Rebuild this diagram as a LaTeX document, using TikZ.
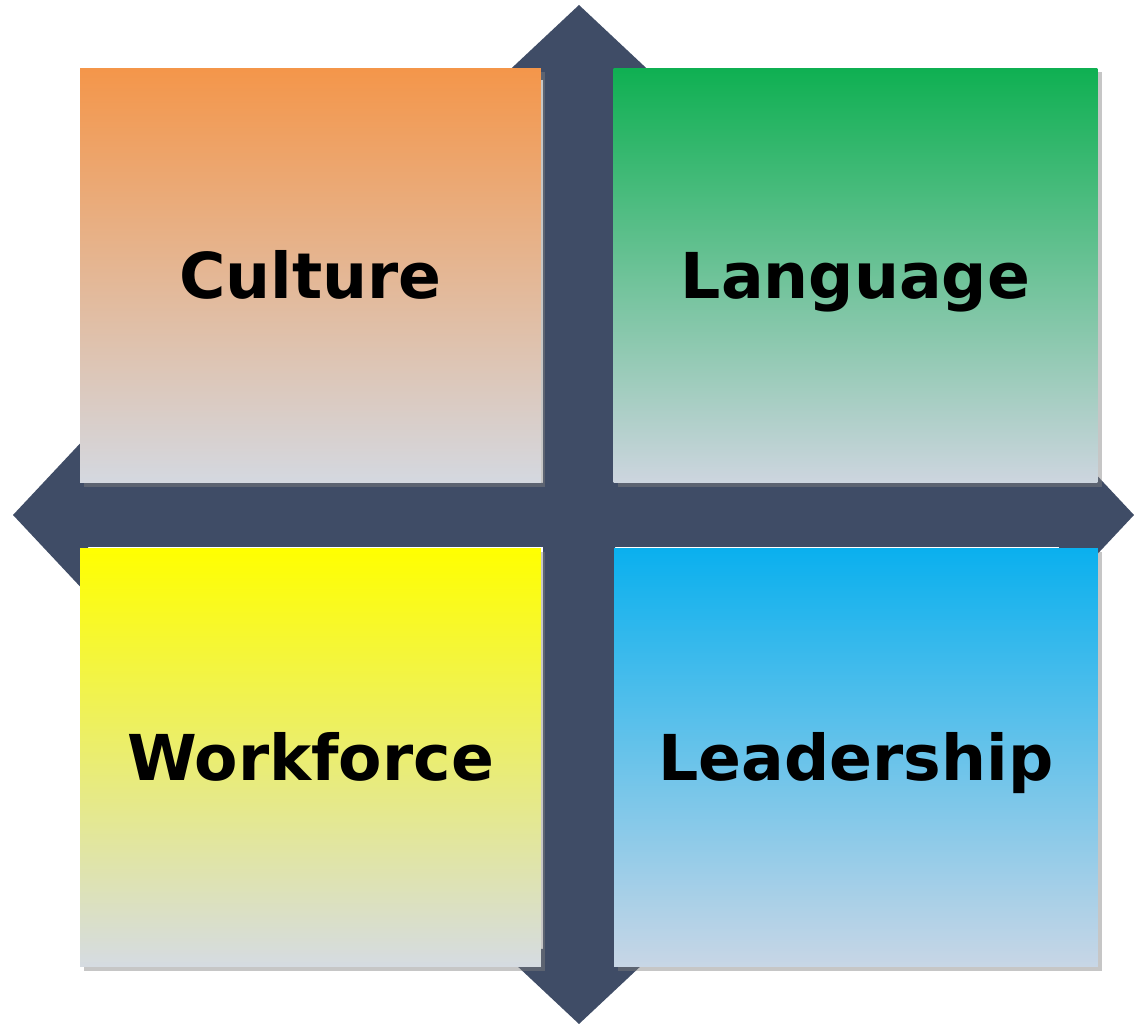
\documentclass[tikz,border=0pt]{standalone}
\usepackage{fontspec}
\setmainfont{DejaVu Sans}
\usetikzlibrary{shadows}
\definecolor{crossblue}{HTML}{3F4C66}
\definecolor{cultop}{HTML}{F4964A}
\definecolor{culbot}{HTML}{D4D8E0}
\definecolor{langtop}{HTML}{0FB052}
\definecolor{langbot}{HTML}{CDD5DF}
\definecolor{worktop}{HTML}{FFFF00}
\definecolor{workbot}{HTML}{D5DBE2}
\definecolor{leadtop}{HTML}{0AB0EE}
\definecolor{leadbot}{HTML}{C8D6E6}
\tikzstyle{quad} = [rectangle, inner sep=0pt, text centered, text=black, text height=26pt, text depth=0pt, font=\bfseries\fontsize{36}{40}\selectfont, drop shadow={shadow xshift=2.5pt, shadow yshift=-2.5pt, fill=black!50, opacity=0.45}]
\tikzstyle{narrow} = [quad, minimum width=9.22cm]
\tikzstyle{wide} = [quad, minimum width=9.68cm]
\tikzstyle{cross} = [fill=crossblue, draw=none]

\begin{document}
\begin{tikzpicture}[x=0.02cm, y=-0.02cm]

    \useasboundingbox (0,0) rectangle (1134,1026);

    % four-headed cross
    \path [cross] (579,5) -- (659,80) -- (615,80) -- (615,483) -- (1059,483) -- (1059,435)
        -- (1134,515) -- (1059,595) -- (1059,547) -- (615,547) -- (615,949) -- (659,949)
        -- (579,1024) -- (499,949) -- (543,949) -- (543,547) -- (88,547) -- (88,595)
        -- (13,515) -- (88,435) -- (88,483) -- (543,483) -- (543,80) -- (499,80) -- cycle;

    \node (culture) [narrow, minimum height=8.30cm, top color=cultop, bottom color=culbot] at (310.5,275.5) {Culture};
    \node (language) [wide, minimum height=8.30cm, top color=langtop, bottom color=langbot] at (855.5,275.5) {Language};
    \node (workforce) [narrow, minimum height=8.38cm, top color=worktop, bottom color=workbot] at (310.5,757.5) {Workforce};
    \node (leadership) [wide, minimum height=8.38cm, top color=leadtop, bottom color=leadbot] at (856,757.5) {Leadership};

\end{tikzpicture}
\end{document}
